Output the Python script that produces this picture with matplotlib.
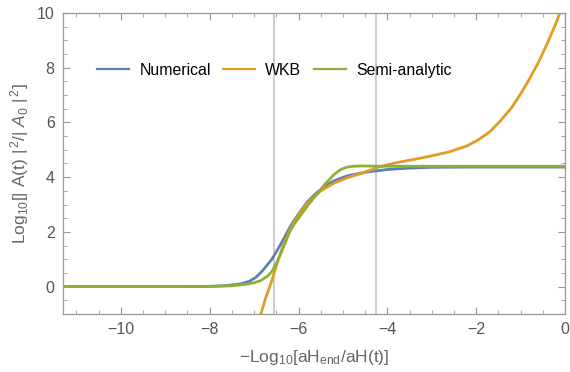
import numpy as np
import matplotlib
matplotlib.use('Agg')
import matplotlib.pyplot as plt
from matplotlib.ticker import MultipleLocator

# curves
x_num = [-11.3, -9.0, -8.0, -7.6, -7.3, -7.1, -6.95, -6.8, -6.7, -6.6, -6.5,
         -6.4, -6.3, -6.2, -6.1, -6.0, -5.8, -5.6, -5.4, -5.2, -4.9, -4.5,
         -4.0, -3.5, -3.0, -2.0, 0.0]
y_num = [0.0, 0.0, 0.01, 0.04, 0.1, 0.2, 0.35, 0.6, 0.8, 1.0, 1.27,
         1.55, 1.85, 2.15, 2.42, 2.65, 3.1, 3.42, 3.68, 3.87, 4.05, 4.18,
         4.28, 4.33, 4.36, 4.37, 4.37]

x_wkb = [-6.9, -6.75, -6.6, -6.5, -6.4, -6.3, -6.2, -6.1, -6.0, -5.8, -5.5,
         -5.2, -4.9, -4.6, -4.2, -3.8, -3.4, -3.0, -2.6, -2.2, -1.96, -1.7,
         -1.44, -1.2, -1.0, -0.8, -0.6, -0.4, -0.2, -0.1]
y_wkb = [-1.3, -0.47, 0.22, 0.75, 1.25, 1.68, 2.05, 2.35, 2.6, 3.05, 3.5,
         3.78, 3.98, 4.13, 4.37, 4.53, 4.65, 4.78, 4.93, 5.15, 5.36, 5.65,
         6.09, 6.55, 7.05, 7.6, 8.2, 8.9, 9.65, 10.1]

x_semi = [-11.3, -8.0, -7.5, -7.2, -7.0, -6.85, -6.7, -6.6, -6.5, -6.4, -6.3,
          -6.2, -6.1, -6.0, -5.8, -5.6, -5.4, -5.2, -5.05, -4.9, -4.75, -4.6,
          -4.2, 0.0]
y_semi = [0.0, 0.0, 0.03, 0.08, 0.14, 0.22, 0.38, 0.55, 0.85, 1.2, 1.6,
          2.0, 2.28, 2.5, 2.95, 3.35, 3.75, 4.1, 4.28, 4.37, 4.4, 4.41,
          4.4, 4.4]

vlines = [-6.55, -4.25]
labels = ['Numerical', 'WKB', 'Semi-analytic']
colors = ['#5E81B5', '#E19C24', '#8FB032']

gray = '#666666'
plt.rcParams['font.family'] = ['Liberation Sans', 'DejaVu Sans']
plt.rcParams['mathtext.fontset'] = 'custom'
plt.rcParams['mathtext.rm'] = 'Liberation Sans'
plt.rcParams['mathtext.it'] = 'Liberation Sans:italic'

fig = plt.figure(figsize=(5.7, 3.72), dpi=100)
ax = fig.add_axes([0.1105, 0.156, 0.881, 0.809])

for v in vlines:
    ax.axvline(v, color='#c8c8c8', lw=1.3, zorder=1)

ax.plot(x_num, y_num, color=colors[0], lw=2, label=labels[0])
ax.plot(x_wkb, y_wkb, color=colors[1], lw=2, label=labels[1])
ax.plot(x_semi, y_semi, color=colors[2], lw=2, label=labels[2])

ax.set_xlim(-11.3, 0)
ax.set_ylim(-1, 10)
ax.xaxis.set_major_locator(MultipleLocator(2))
ax.xaxis.set_minor_locator(MultipleLocator(0.5))
ax.yaxis.set_major_locator(MultipleLocator(2))
ax.yaxis.set_minor_locator(MultipleLocator(0.5))
ax.tick_params(which='both', direction='in', top=True, right=True,
               color='#999999', labelcolor='#555555', labelsize=11.5)
ax.tick_params(which='major', length=5, width=0.8, pad=6)
ax.tick_params(which='minor', length=3, width=0.6)
ax.set_xticks([-10, -8, -6, -4, -2, 0])
ax.set_xticklabels(['\u221210', '\u22128', '\u22126', '\u22124', '\u22122', '0'])
for s in ax.spines.values():
    s.set_color('#999999')
    s.set_linewidth(0.9)

ax.set_xlabel(r'$-$Log$_{10}$[aH$_{\mathrm{end}}$/aH(t)]', color=gray,
              fontsize=12.5, labelpad=8)
ax.set_ylabel(r'Log$_{10}$[| A(t) |$^{\,2}$/| $A_0$ |$^{\,2}$]', color=gray,
              fontsize=12.5, labelpad=4)

leg = ax.legend(loc='center left', bbox_to_anchor=(0.04, 0.81), ncol=3,
                frameon=False, fontsize=11.4, handlelength=2.0,
                handletextpad=0.65, columnspacing=0.8)
for h in leg.legend_handles:
    h.set_linewidth(1.6)

fig.savefig('out.png', dpi=100)
